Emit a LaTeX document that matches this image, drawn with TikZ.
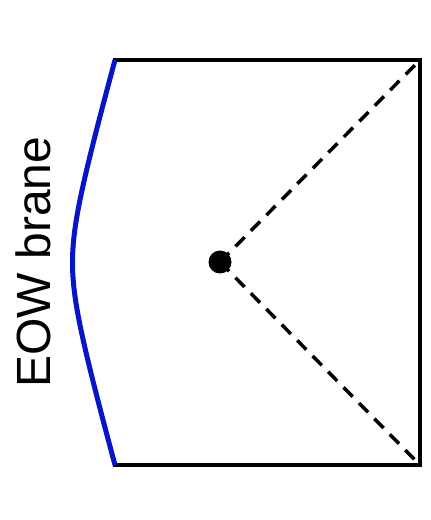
\documentclass[tikz,border=0pt]{standalone}
\usepackage{fontspec}
\setmainfont{Liberation Sans}
\definecolor{braneblue}{RGB}{8,20,200}
\begin{document}
\begin{tikzpicture}[x=1pt,y=1pt,
  edge/.style={line width=4pt,black,line cap=rect},
  brane/.style={line width=5pt,braneblue},
  ray/.style={line width=3.5pt,black,dash pattern=on 13pt off 9pt},
  lbl/.style={font=\fontsize{48}{50}\selectfont,rotate=90,inner sep=0pt}]
\useasboundingbox (0,0) rectangle (431,520);
\coordinate (tl) at (115,460);
\coordinate (tr) at (420,460);
\coordinate (br) at (420,55);
\coordinate (bl) at (115,55);
\node[circle,fill=black,minimum size=23pt,inner sep=0pt] (p) at (220,258) {};
\draw[edge] (tl) -- (tr) -- (br) -- (bl);
\draw[brane] plot[domain=-202.5:202.5,samples=121,smooth]
  ({72.5+16.87*(sqrt(1+(\x/60)^2)-1)},{257.5-\x});
\draw[ray] (p.center) -- (tr);
\draw[ray] (p.center) -- (br);
\node[lbl] (t) at (33,258) {EOW brane};
\end{tikzpicture}
\end{document}
